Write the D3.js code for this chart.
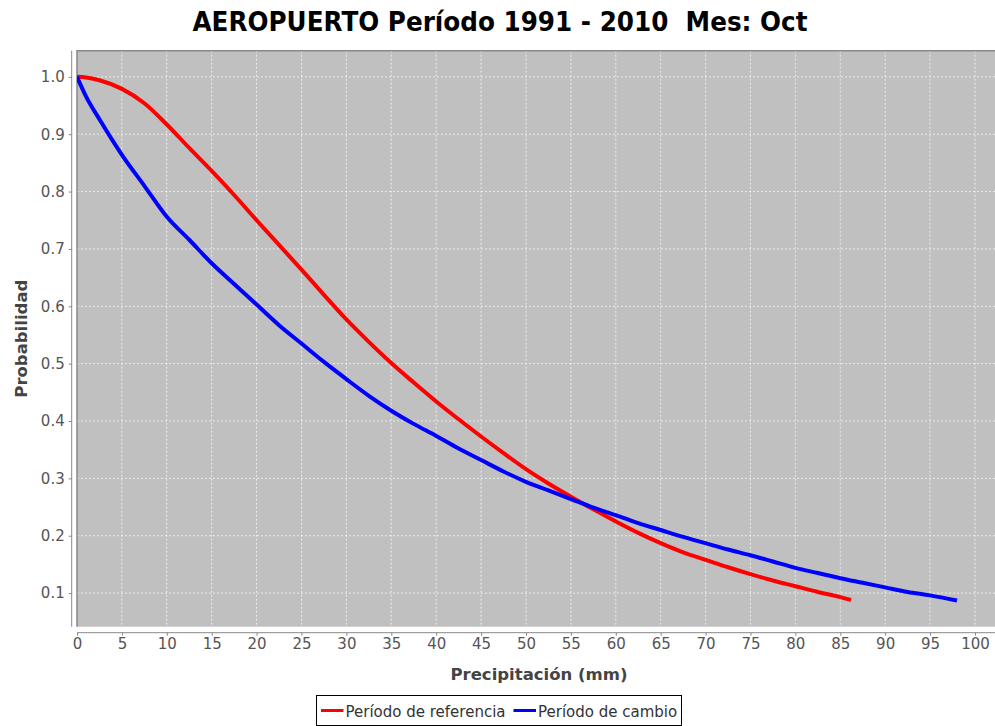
<!DOCTYPE html>
<html>
<head>
<meta charset="utf-8">
<script src="https://cdn.jsdelivr.net/npm/d3@7"></script>
<style>
  body { margin: 0; overflow: hidden; background: #fff; }
  svg { display: block; font-family: "DejaVu Sans", sans-serif; }
</style>
</head>
<body>
<svg id="chart" width="995" height="726"></svg>
<script>
const title = "AEROPUERTO Período 1991 - 2010  Mes: Oct"
const xLabel = "Precipitación (mm)"
const yLabel = "Probabilidad"
const seriesNames = ["Período de referencia", "Período de cambio"]
const seriesColors = ["#ff0000", "#0000ff"]

const refX = [0, 1, 2.5, 5, 7.5, 10, 12.5, 15, 17.5, 20, 22.5, 25, 27.5, 30, 32.5, 35, 37.5, 40, 42.5, 45, 47.5, 50, 52.5, 55, 57.5, 60, 62.5, 65, 67.5, 70, 72.5, 75, 77.5, 80, 82.5, 85, 86.2]
const refP = [1.0, 0.999, 0.994, 0.979, 0.954, 0.917, 0.876, 0.836, 0.794, 0.750, 0.707, 0.664, 0.620, 0.577, 0.538, 0.501, 0.467, 0.434, 0.403, 0.373, 0.344, 0.316, 0.291, 0.268, 0.246, 0.225, 0.205, 0.187, 0.171, 0.158, 0.145, 0.133, 0.122, 0.112, 0.102, 0.093, 0.088]

const camX = [0, 1, 2.5, 5, 7.5, 10, 12.5, 15, 17.5, 20, 22.5, 25, 27.5, 30, 32.5, 35, 37.5, 40, 42.5, 45, 47.5, 50, 52.5, 55, 57.5, 60, 62.5, 65, 67.5, 70, 72.5, 75, 77.5, 80, 82.5, 85, 87.5, 90, 92.5, 95, 98]
const camP = [1.0, 0.966, 0.926, 0.864, 0.810, 0.756, 0.716, 0.675, 0.639, 0.603, 0.567, 0.535, 0.503, 0.473, 0.444, 0.418, 0.395, 0.374, 0.352, 0.332, 0.312, 0.294, 0.279, 0.264, 0.249, 0.236, 0.222, 0.210, 0.198, 0.187, 0.176, 0.166, 0.155, 0.144, 0.135, 0.126, 0.118, 0.110, 0.102, 0.096, 0.087]

const xTicks = d3.range(0, 101, 5)
const yTicks = [0.1, 0.2, 0.3, 0.4, 0.5, 0.6, 0.7, 0.8, 0.9, 1.0]

const svg = d3.select("#chart")
const plot = { left: 77, top: 50.7, right: 1001, bottom: 626.7 }

const x = d3.scaleLinear().domain([0, 102.9]).range([plot.left, plot.right])
const y = d3.scaleLinear().domain([0.0414, 1.0456]).range([plot.bottom, plot.top])

svg.append("text")
  .attr("x", 500)
  .attr("y", 31)
  .attr("text-anchor", "middle")
  .attr("font-size", 26)
  .attr("font-weight", "bold")
  .attr("textLength", 615)
  .attr("lengthAdjust", "spacingAndGlyphs")
  .attr("fill", "#000")
  .style("white-space", "pre")
  .text(title)

svg.append("clipPath").attr("id", "clip")
  .append("rect")
  .attr("x", plot.left).attr("y", plot.top)
  .attr("width", plot.right - plot.left).attr("height", plot.bottom - plot.top)

svg.append("rect")
  .attr("x", plot.left).attr("y", plot.top)
  .attr("width", plot.right - plot.left).attr("height", plot.bottom - plot.top)
  .attr("fill", "#c0c0c0")

const grid = svg.append("g").attr("stroke", "#ffffff").attr("stroke-opacity", 0.7)
  .attr("stroke-dasharray", "2,2").attr("stroke-width", 1)
grid.selectAll(".gx").data(xTicks.filter(d => d > 0)).join("line")
  .attr("x1", d => x(d)).attr("x2", d => x(d))
  .attr("y1", plot.top).attr("y2", plot.bottom)
grid.selectAll(".gy").data(yTicks).join("line")
  .attr("x1", plot.left).attr("x2", plot.right)
  .attr("y1", d => y(d)).attr("y2", d => y(d))

svg.append("path")
  .attr("d", `M${plot.left},${plot.bottom}V${plot.top}H${plot.right}`)
  .attr("fill", "none").attr("stroke", "#888").attr("stroke-width", 1.5)

const line = d3.line().x(d => x(d[0])).y(d => y(d[1])).curve(d3.curveMonotoneX)
const series = [d3.zip(refX, refP), d3.zip(camX, camP)]
svg.append("g").attr("clip-path", "url(#clip)")
  .selectAll("path").data(series).join("path")
  .attr("d", line)
  .attr("fill", "none")
  .attr("stroke", (d, i) => seriesColors[i])
  .attr("stroke-width", 4)
  .attr("stroke-linejoin", "round")

// y axis, offset 5px left of the plot
const yAxis = svg.append("g")
  .attr("transform", `translate(${plot.left - 5.3},0)`)
  .call(d3.axisLeft(y).tickValues(yTicks).tickFormat(d3.format(".1f")).tickSize(3).tickPadding(4))
  .attr("font-size", 15).attr("font-family", "DejaVu Sans, sans-serif")
yAxis.select(".domain").attr("d", `M0,${plot.top}V${plot.bottom}`).attr("stroke", "#888")
yAxis.selectAll(".tick line").attr("stroke", "#888")
yAxis.selectAll(".tick text").attr("fill", "#555")

// x axis, offset 6px below the plot
const xAxis = svg.append("g")
  .attr("transform", `translate(0,${plot.bottom + 6})`)
  .call(d3.axisBottom(x).tickValues(xTicks).tickSize(3).tickPadding(3))
  .attr("font-size", 15).attr("font-family", "DejaVu Sans, sans-serif")
xAxis.select(".domain").attr("d", `M${plot.left},0H${plot.right}`).attr("stroke", "#888")
xAxis.selectAll(".tick line").attr("stroke", "#888")
xAxis.selectAll(".tick text").attr("fill", "#555")

svg.append("text")
  .attr("x", (plot.left + plot.right) / 2)
  .attr("y", 680)
  .attr("text-anchor", "middle")
  .attr("font-size", 16.5)
  .attr("font-weight", "bold")
  .attr("fill", "#444")
  .text(xLabel)

svg.append("text")
  .attr("transform", `translate(26.5,${(plot.top + plot.bottom) / 2}) rotate(-90)`)
  .attr("text-anchor", "middle")
  .attr("font-size", 16.5)
  .attr("font-weight", "bold")
  .attr("fill", "#444")
  .text(yLabel)

// legend
const legend = svg.append("g")
legend.append("rect")
  .attr("x", 316.5).attr("y", 695.5).attr("width", 365).attr("height", 30)
  .attr("fill", "#fff").attr("stroke", "#000")
const items = legend.selectAll("g").data(seriesNames).join("g")
  .attr("transform", (d, i) => `translate(${[321, 513.5][i]},0)`)
items.append("line")
  .attr("x1", 0).attr("x2", 22.5).attr("y1", 710.5).attr("y2", 710.5)
  .attr("stroke", (d, i) => seriesColors[i]).attr("stroke-width", 3)
items.append("text")
  .attr("x", 24.5).attr("y", 716.5)
  .attr("font-size", 15)
  .attr("fill", "#333")
  .text(d => d)
</script>
</body>
</html>
